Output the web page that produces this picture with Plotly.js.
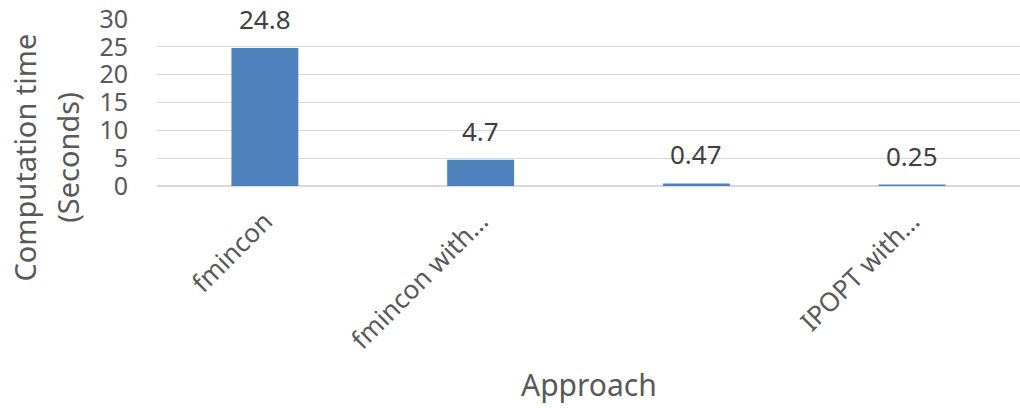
<!DOCTYPE html>
<html>
<head>
<meta charset="utf-8">
<script src="https://cdn.plot.ly/plotly-3.0.1.min.js"></script>
<style>html,body{margin:0;padding:0;background:#fff;}#chart{width:1020px;height:408px;}</style>
</head>
<body>
<div id="chart"></div>
<script>
var categories = ["fmincon", "fmincon with...", "IPOPT", "IPOPT with..."];
var tickLabels = ["fmincon", "fmincon with\u2026", "", "IPOPT with\u2026"];
var times = [24.8, 4.7, 0.47, 0.25];
var valueLabels = ["24.8", "4.7", "0.47", "0.25"];
var yTicks = [0, 5, 10, 15, 20, 25, 30];
var xTitle = "Approach";
var yTitleLines = ["Computation time", "(Seconds)"];

var FONT = "Noto Sans, Open Sans, sans-serif";
var GREY = "#595959";

var trace = {
  type: "bar",
  x: categories,
  y: times,
  width: 0.31,
  marker: {color: "#4F81BD"},
  hoverinfo: "x+y"
};

var annotations = categories.map(function(c, i){
  return {x: c, y: times[i], xref: "x", yref: "y", text: valueLabels[i], showarrow: false,
          yanchor: "bottom", yshift: 9, font: {family: FONT, size: 26, color: "#404040"}};
});
// axis titles
annotations.push({xref: "paper", yref: "paper", x: 0.5, y: -1.19, xanchor: "center", yanchor: "middle",
  text: xTitle, showarrow: false, font: {family: FONT, size: 30, color: GREY}});
annotations.push({xref: "paper", yref: "paper", x: -0.153, y: 0.17, xanchor: "center", yanchor: "middle",
  textangle: -90, text: yTitleLines[0], showarrow: false, font: {family: FONT, size: 29, color: GREY}});
annotations.push({xref: "paper", yref: "paper", x: -0.104, y: 0.17, xanchor: "center", yanchor: "middle",
  textangle: -90, text: yTitleLines[1], showarrow: false, font: {family: FONT, size: 29, color: GREY}});

var layout = {
  width: 1020, height: 408,
  margin: {l: 157, r: 0, t: 19, b: 222},
  paper_bgcolor: "#fff", plot_bgcolor: "#fff",
  showlegend: false,
  xaxis: {
    type: "category",
    tickvals: categories,
    ticktext: tickLabels,
    tickangle: -45,
    ticks: "", showgrid: false, zeroline: false, showline: false,
    ticklabelstandoff: 14,
    tickfont: {family: FONT, size: 26, color: GREY},
    automargin: false
  },
  yaxis: {
    range: [0, 30],
    tickvals: yTicks,
    ticks: "",
    showgrid: true, gridcolor: "#D9D9D9", gridwidth: 1.3,
    zeroline: true, zerolinecolor: "#D9D9D9", zerolinewidth: 1.3,
    showline: false,
    ticklabelstandoff: 28,
    tickfont: {family: FONT, size: 25, color: GREY},
    automargin: false
  },
  annotations: annotations
};

Plotly.newPlot("chart", [trace], layout, {displayModeBar: false, staticPlot: true});
</script>
</body>
</html>
